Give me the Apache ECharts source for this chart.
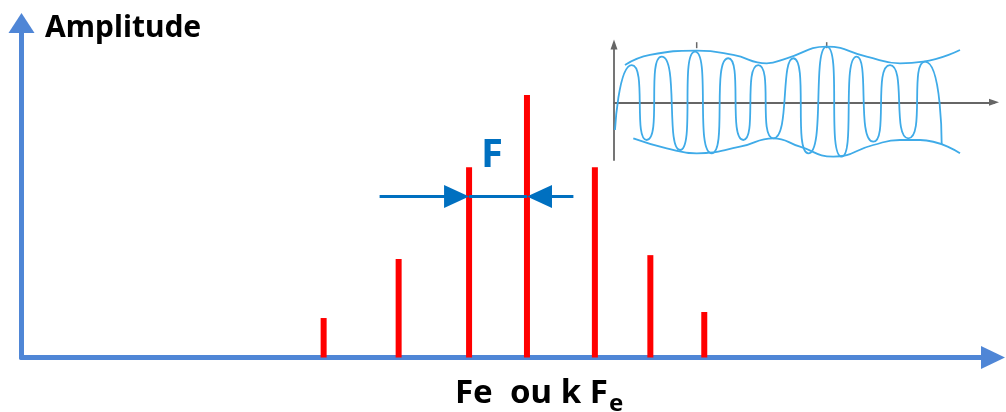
<!DOCTYPE html>
<html>
<head>
<meta charset="utf-8">
<script src="https://cdn.jsdelivr.net/npm/echarts@6/dist/echarts.min.js"></script>
<style>
    html, body { margin: 0; padding: 0; background: #fff; }
    #main { width: 1006px; height: 412px; }
</style>
</head>
<body>
<div id="main"></div>
<script>
// 频谱线：位置（任意频率单位）和幅度
const freqs = [31.1, 38.82, 46.07, 52.03, 59.02, 64.73, 70.28];
const amps = [11.8, 29.45, 56.9, 78.5, 56.9, 30.6, 13.6];

// F 间距箭头
const fArrowLevel = 48.1;
const fArrowEnds = [36.86, 56.81];

// 小图：调制后的载波（峰和谷，从图上读出）
const carrierT = [0.26, 4.66, 8.61, 12.55, 17.37, 21.32, 25.71, 30.08, 34.03, 37.97, 41.92,
    47.18, 51.13, 55.97, 59.92, 63.87, 68.24, 72.63, 77.45, 81.84, 86.24];
const carrierA = [-0.48, 0.646, -0.653, 0.79, -0.827, 0.877, -0.884, 0.763, -0.653, 0.646, -0.624,
    0.763, -0.884, 0.964, -0.943, 0.79, -0.683, 0.646, -0.624, 0.704, -0.74];

// 小图：包络线
const envTopT = [2.89, 9.47, 21.76, 31.39, 40.18, 45.45, 55.97, 66.5, 75.26, 81.39, 91.05];
const envTopA = [0.646, 0.82, 0.894, 0.82, 0.676, 0.763, 0.964, 0.79, 0.676, 0.704, 0.906];
const envBotT = [5.08, 13.87, 21.76, 33.16, 41.92, 48.95, 57.71, 68.24, 75.26, 80.53, 91.05];
const envBotA = [-0.624, -0.797, -0.884, -0.77, -0.624, -0.77, -0.943, -0.74, -0.653, -0.653, -0.884];

// 小图顶部的两个刻度
const insetTickT = [21.76, 55.97];

const zip = (a, b) => a.map((v, i) => [v, b[i]]);

const chart = echarts.init(document.getElementById('main'));

const GRID_LEFT = 21.5, GRID_RIGHT = 13, X_MAX = 100;
const pxPerUnit = (1006 - GRID_LEFT - GRID_RIGHT) / X_MAX;
const HEAD = 25;
const headUnits = HEAD / 2 / pxPerUnit;

const AXIS_BLUE = '#4F86D6';
const WAVE_BLUE = '#3FABE8';
const INSET_GRAY = '#666';
const FONT = '"Noto Sans", "Open Sans", sans-serif';

const option = {
    animation: false,
    grid: [
        { left: GRID_LEFT, right: GRID_RIGHT, top: 23, bottom: 54.5 },
        { left: 614, right: 12, top: 44.6, bottom: 252 }
    ],
    xAxis: [
        {
            type: 'value', min: 0, max: X_MAX, gridIndex: 0,
            axisLine: { show: true, symbol: ['none', 'triangle'], symbolSize: [23, 24],
                lineStyle: { color: AXIS_BLUE, width: 5 } },
            axisTick: { show: false }, axisLabel: { show: false }, splitLine: { show: false }
        },
        {
            type: 'value', min: 0, max: 100, gridIndex: 1,
            axisLine: { show: true, onZero: true, symbol: ['none', 'triangle'], symbolSize: [7, 10],
                lineStyle: { color: INSET_GRAY, width: 1.8 } },
            axisTick: { show: false }, axisLabel: { show: false }, splitLine: { show: false }
        }
    ],
    yAxis: [
        {
            type: 'value', min: 0, max: 100, gridIndex: 0,
            axisLine: { show: true, symbol: ['none', 'triangle'], symbolSize: [26, 20],
                lineStyle: { color: AXIS_BLUE, width: 5 } },
            axisTick: { show: false }, axisLabel: { show: false }, splitLine: { show: false }
        },
        {
            type: 'value', min: -1, max: 1, gridIndex: 1,
            axisLine: { show: true, onZero: true, symbol: ['none', 'triangle'], symbolSize: [7, 10],
                lineStyle: { color: INSET_GRAY, width: 1.8 } },
            axisTick: { show: false }, axisLabel: { show: false }, splitLine: { show: false }
        }
    ],
    series: [
        {
            type: 'bar',
            xAxisIndex: 0, yAxisIndex: 0,
            barWidth: 6,
            itemStyle: { color: '#FF0000' },
            data: zip(freqs, amps),
            markLine: {
                silent: true,
                animation: false,
                symbol: ['none', 'none'],
                symbolSize: [23, HEAD],
                label: { show: false },
                lineStyle: { color: '#0070C0', width: 3, type: 'solid' },
                emphasis: { disabled: true },
                data: [
                    [{ coord: [fArrowEnds[0], fArrowLevel] },
                     { coord: [freqs[2] - headUnits, fArrowLevel], symbol: 'triangle' }],
                    [{ coord: [fArrowEnds[1], fArrowLevel] },
                     { coord: [freqs[3] + headUnits, fArrowLevel], symbol: 'triangle' }],
                    [{ coord: [freqs[2], fArrowLevel] }, { coord: [freqs[3], fArrowLevel] }]
                ]
            }
        },
        {
            type: 'line', xAxisIndex: 1, yAxisIndex: 1,
            smooth: 1, showSymbol: false, silent: true,
            lineStyle: { color: WAVE_BLUE, width: 1.8 },
            data: zip(carrierT, carrierA)
        },
        {
            type: 'line', xAxisIndex: 1, yAxisIndex: 1,
            smooth: 0.5, showSymbol: false, silent: true,
            lineStyle: { color: WAVE_BLUE, width: 1.8 },
            data: zip(envTopT, envTopA)
        },
        {
            type: 'line', xAxisIndex: 1, yAxisIndex: 1,
            smooth: 0.5, showSymbol: false, silent: true,
            lineStyle: { color: WAVE_BLUE, width: 1.8 },
            data: zip(envBotT, envBotA)
        },
        {
            type: 'scatter', xAxisIndex: 1, yAxisIndex: 1,
            symbol: 'rect', symbolSize: [1.5, 6], silent: true,
            itemStyle: { color: '#444' },
            data: insetTickT.map(t => [t, 0.99])
        }
    ],
    graphic: [
        { type: 'text', left: 45, top: 13,
          style: { text: 'Amplitude', font: 'bold 30px ' + FONT, fill: '#000' } },
        { type: 'text', left: 481, top: 136,
          style: { text: 'F', font: 'bold 40px ' + FONT, fill: '#0070C0' } },
        { type: 'text', left: 455, top: 377,
          style: { text: 'Fe  ou k F', font: 'bold 33px ' + FONT, fill: '#000' } },
        { type: 'text', left: 609, top: 392,
          style: { text: 'e', font: 'bold 24px ' + FONT, fill: '#000' } }
    ]
};

chart.setOption(option);

window.addEventListener('resize', function () {
    chart.resize();
});
</script>
</body>
</html>
